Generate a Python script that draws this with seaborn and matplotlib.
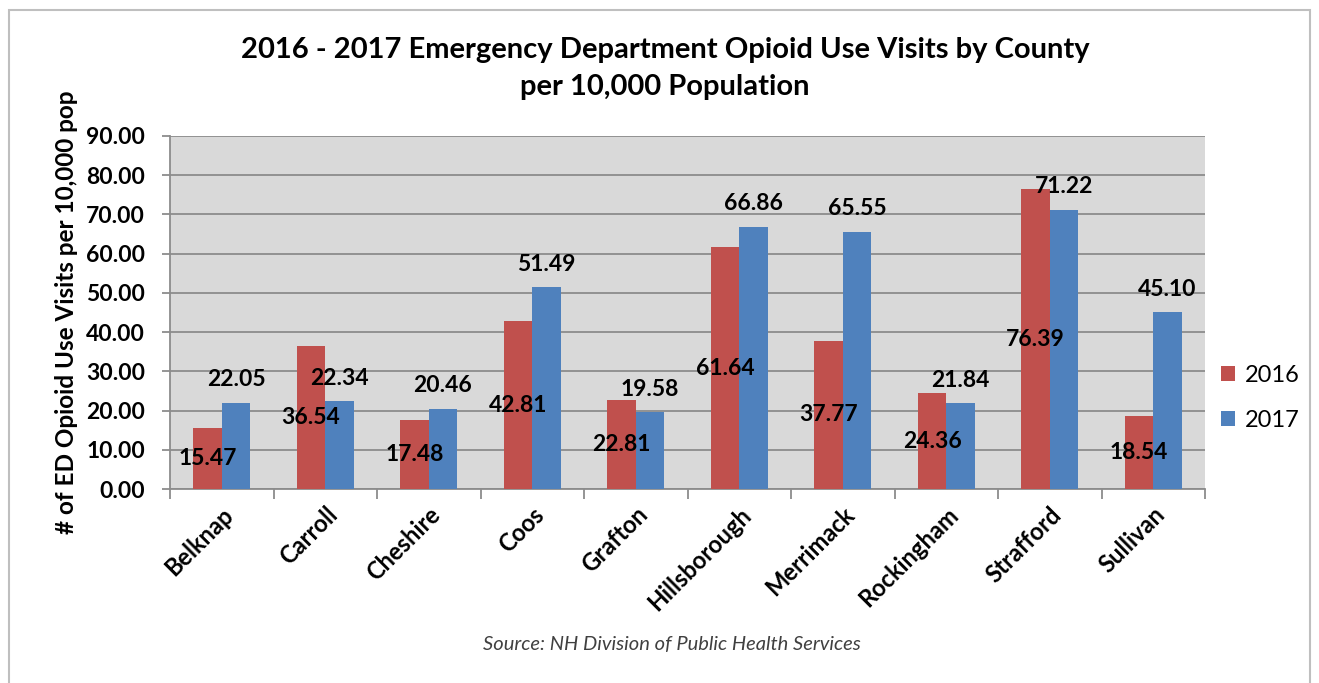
import matplotlib
matplotlib.use("Agg")
import matplotlib.pyplot as plt
import seaborn as sns
import pandas as pd
import numpy as np
from matplotlib.patches import Rectangle

counties = ["Belknap", "Carroll", "Cheshire", "Coos", "Grafton", "Hillsborough",
            "Merrimack", "Rockingham", "Strafford", "Sullivan"]
v2016 = [15.47, 36.54, 17.48, 42.81, 22.81, 61.64, 37.77, 24.36, 76.39, 18.54]
v2017 = [22.05, 22.34, 20.46, 51.49, 19.58, 66.86, 65.55, 21.84, 71.22, 45.10]
years = ["2016", "2017"]
yticks = [0, 10, 20, 30, 40, 50, 60, 70, 80, 90]

df = pd.DataFrame({
    "County": counties * 2,
    "Year": [years[0]] * len(counties) + [years[1]] * len(counties),
    "Value": v2016 + v2017,
})

sns.set_theme(style="white")
plt.rcParams["font.family"] = ["Lato", "DejaVu Sans"]
plt.rcParams["text.color"] = "black"
plt.rcParams["axes.labelcolor"] = "black"
plt.rcParams["xtick.labelcolor"] = "black"
plt.rcParams["ytick.labelcolor"] = "black"

fig = plt.figure(figsize=(13.19, 6.83), dpi=100)
fig.patches.append(Rectangle((9 / 1319, -0.05), (1310 - 9) / 1319, 1.05 - 10 / 683,
                             transform=fig.transFigure, fill=False,
                             edgecolor="#BFBFBF", linewidth=1.5, zorder=0))

ax = fig.add_axes([170 / 1319, 1 - 489 / 683, (1205 - 170) / 1319, (489 - 136) / 683])
ax.set_facecolor("#D9D9D9")

sns.barplot(data=df, x="County", y="Value", hue="Year",
            palette={"2016": "#C0504D", "2017": "#4F81BD"},
            width=0.55, gap=0, saturation=1, ax=ax, zorder=3, legend=True,
            linewidth=0, edgecolor="none")

ax.set_ylim(0, 90)
ax.set_xlim(-0.5, len(counties) - 0.5)
ax.set_yticks(yticks)
ax.set_yticklabels([f"{t:.2f}" for t in yticks], fontsize=16.5, fontweight="bold",
                   color="black")
ax.yaxis.grid(True, color="#8C8C8C", linewidth=1.3, zorder=0)
ax.set_axisbelow(True)

for s in ["top", "right"]:
    ax.spines[s].set_visible(False)
for s in ["left", "bottom"]:
    ax.spines[s].set_color("#8C8C8C")
    ax.spines[s].set_linewidth(1.3)

ax.tick_params(axis="y", which="major", length=6, width=1.3, color="#8C8C8C",
               left=True, pad=12, labelcolor="black")
ax.set_xticks(range(len(counties)))
ax.set_xticklabels(counties, rotation=45, ha="right", rotation_mode="anchor",
                   fontsize=17, fontweight="bold", color="black")
ax.tick_params(axis="x", which="major", length=0, pad=10, labelcolor="black")
ax.set_xticks(np.arange(-0.5, len(counties), 1.0), minor=True)
ax.tick_params(axis="x", which="minor", length=7, width=1.3, color="#8C8C8C", bottom=True)

ax.set_xlabel("")
ax.set_ylabel("# of ED Opioid Use Visits per 10,000 pop", fontsize=17.5,
              fontweight="bold", labelpad=6, color="black")

c16, c17 = ax.containers[0], ax.containers[1]
ax.bar_label(c16, labels=[f"{v:.2f}" for v in v2016], label_type="center",
             fontsize=16.5, fontweight="bold", color="black", zorder=5)
ax.bar_label(c17, labels=[f"{v:.2f}" for v in v2017], label_type="edge", padding=9,
             fontsize=16.5, fontweight="bold", color="black", zorder=5)

leg = ax.legend(loc="center left", bbox_to_anchor=(0.995, 0.258), frameon=False,
                fontsize=17, handlelength=0.6, handleheight=0.6, handletextpad=0.4,
                labelspacing=1.0, labelcolor="black")

fig.text(665 / 1319, 1 - 50 / 683, "2016 - 2017 Emergency Department Opioid Use Visits by County",
         ha="center", va="center", fontsize=21, fontweight="bold", color="black")
fig.text(665 / 1319, 1 - 87 / 683, "per 10,000 Population",
         ha="center", va="center", fontsize=21, fontweight="bold", color="black")
fig.text(672 / 1319, 1 - 645 / 683, "Source: NH Division of Public Health Services",
         ha="center", va="center", fontsize=14.5, fontstyle="italic", color="#404040")

fig.savefig("out.png", dpi=100)
